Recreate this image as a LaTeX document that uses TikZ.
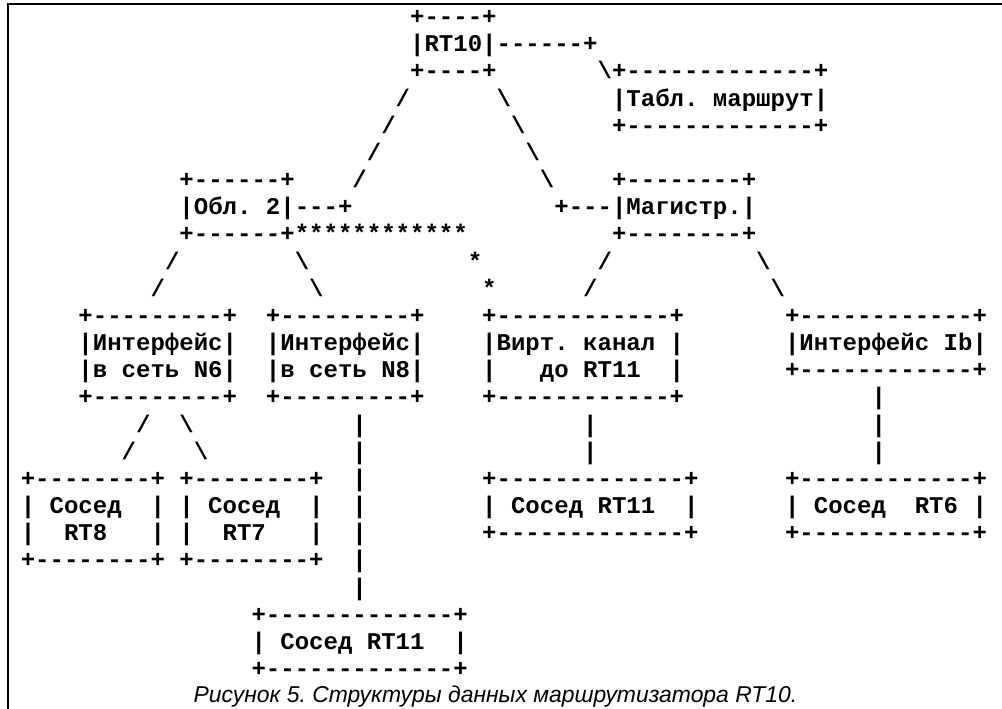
\documentclass[tikz,border=0pt]{standalone}
\usepackage{fontspec}
\newfontfamily\ascfont{Liberation Mono}[Ligatures=TeXOff]
\newfontfamily\capfont{Liberation Sans}
\newcommand\asrow[4]{\node[asc] (#1) at ({20.8+14.42*(#2)},{24.5+27.17*(#3)}) {#4};}
\newcommand\bs{\textbackslash}
\begin{document}
\begin{tikzpicture}[x=1pt,y=-1pt,
  asc/.style={anchor=base west, inner sep=0pt, outer sep=0pt,
    font=\ascfont\bfseries\fontsize{24.03pt}{27pt}\selectfont\frenchspacing},
  captext/.style={inner sep=0pt, outer sep=0pt,
    font=\capfont\itshape\fontsize{22.9pt}{25pt}\selectfont\frenchspacing},
  frameline/.style={line width=2pt, line cap=rect}]
\useasboundingbox (0,0) rectangle (1002,709);
\coordinate (fbl) at (8,709);
\coordinate (ftl) at (8,4);
\coordinate (ftr) at (1002,4);
\draw[frameline] (fbl) -- (ftl) -- (ftr);
% row 0-2
\asrow{r0a}{27}{0}{+----+}
\asrow{r1a}{27}{1}{|RT10|------+}
\asrow{r2a}{27}{2}{+----+}
\asrow{r2b}{40}{2}{\bs+-------------+}
% row 3-5
\asrow{r3a}{26}{3}{/}
\asrow{r3b}{33}{3}{\bs}
\asrow{r3c}{41}{3}{|Табл. маршрут|}
\asrow{r4a}{25}{4}{/}
\asrow{r4b}{34}{4}{\bs}
\asrow{r4c}{41}{4}{+-------------+}
\asrow{r5a}{24}{5}{/}
\asrow{r5b}{35}{5}{\bs}
% row 6-8
\asrow{r6a}{11}{6}{+------+}
\asrow{r6b}{23}{6}{/}
\asrow{r6c}{36}{6}{\bs}
\asrow{r6d}{41}{6}{+--------+}
\asrow{r7a}{11}{7}{|Обл. 2|---+}
\asrow{r7b}{37}{7}{+---|Магистр.|}
\asrow{r8a}{11}{8}{+------+************}
\asrow{r8b}{41}{8}{+--------+}
% row 9-10
\asrow{r9a}{10}{9}{/}
\asrow{r9b}{19}{9}{\bs}
\asrow{r9c}{31}{9}{*}
\asrow{r9d}{40}{9}{/}
\asrow{r9e}{51}{9}{\bs}
\asrow{r10a}{9}{10}{/}
\asrow{r10b}{20}{10}{\bs}
\asrow{r10c}{32}{10}{*}
\asrow{r10d}{39}{10}{/}
\asrow{r10e}{52}{10}{\bs}
% row 11-14
\asrow{r11a}{4}{11}{+---------+}
\asrow{r11b}{17}{11}{+---------+}
\asrow{r11c}{32}{11}{+------------+}
\asrow{r11d}{53}{11}{+------------+}
\asrow{r12a}{4}{12}{|Интерфейс|}
\asrow{r12b}{17}{12}{|Интерфейс|}
\asrow{r12c}{32}{12}{|Вирт. канал~|}
\asrow{r12d}{53}{12}{|Интерфейс Ib|}
\asrow{r13a}{4}{13}{|в сеть N6|}
\asrow{r13b}{17}{13}{|в сеть N8|}
\asrow{r13c}{32}{13}{|~~~до RT11~~|}
\asrow{r13d}{53}{13}{+------------+}
\asrow{r14a}{4}{14}{+---------+}
\asrow{r14b}{17}{14}{+---------+}
\asrow{r14c}{32}{14}{+------------+}
\asrow{r14d}{59}{14}{|}
% row 15-16
\asrow{r15a}{8}{15}{/}
\asrow{r15b}{11}{15}{\bs}
\asrow{r15c}{23}{15}{|}
\asrow{r15d}{39}{15}{|}
\asrow{r15e}{59}{15}{|}
\asrow{r16a}{7}{16}{/}
\asrow{r16b}{12}{16}{\bs}
\asrow{r16c}{23}{16}{|}
\asrow{r16d}{39}{16}{|}
\asrow{r16e}{59}{16}{|}
% row 17-21
\asrow{r17a}{0}{17}{+--------+~+--------+}
\asrow{r17b}{23}{17}{|}
\asrow{r17c}{32}{17}{+-------------+}
\asrow{r17d}{53}{17}{+------------+}
\asrow{r18a}{0}{18}{|~Сосед~~|~|~Сосед~~|}
\asrow{r18b}{23}{18}{|}
\asrow{r18c}{32}{18}{|~Сосед RT11~~|}
\asrow{r18d}{53}{18}{|~Сосед~~RT6~|}
\asrow{r19a}{0}{19}{|~~RT8~~~|~|~~RT7~~~|}
\asrow{r19b}{23}{19}{|}
\asrow{r19c}{32}{19}{+-------------+}
\asrow{r19d}{53}{19}{+------------+}
\asrow{r20a}{0}{20}{+--------+~+--------+}
\asrow{r20b}{23}{20}{|}
\asrow{r21a}{23}{21}{|}
% row 22-24
\asrow{r22a}{16}{22}{+-------------+}
\asrow{r23a}{16}{23}{|~Сосед RT11~~|}
\asrow{r24a}{16}{24}{+-------------+}
% caption
\node[captext] (cap) at (495.5,697) {Рисунок 5. Структуры данных маршрутизатора RT10.};
\end{tikzpicture}
\end{document}
